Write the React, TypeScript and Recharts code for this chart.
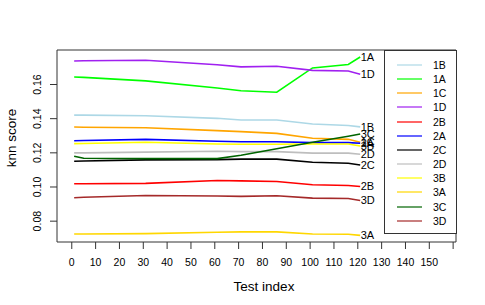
import { LineChart, Line, XAxis, YAxis, ReferenceArea } from "recharts";

// test index positions where the knn score was measured
const testIndex = [1, 5, 31, 61, 71, 86, 101, 116, 121];

const s1B = [0.1421, 0.1421, 0.1417, 0.1402, 0.1392, 0.1392, 0.1369, 0.136, 0.1352];
const s1A = [0.1644, 0.1642, 0.1621, 0.158, 0.1563, 0.1555, 0.1697, 0.1717, 0.1761];
const s1C = [0.1351, 0.135, 0.1347, 0.133, 0.1324, 0.1314, 0.1285, 0.1279, 0.1262];
const s1D = [0.1738, 0.1739, 0.1742, 0.1716, 0.1703, 0.1707, 0.1683, 0.1679, 0.166];
const s2B = [0.1019, 0.1019, 0.1021, 0.1038, 0.1036, 0.1032, 0.1013, 0.1009, 0.1003];
const s2A = [0.1271, 0.1272, 0.1279, 0.1268, 0.1265, 0.1265, 0.126, 0.126, 0.1256];
const s2C = [0.1151, 0.1152, 0.1159, 0.116, 0.1163, 0.1163, 0.1145, 0.1139, 0.1129];
const s2D = [0.12, 0.12, 0.1204, 0.1209, 0.1207, 0.1207, 0.1198, 0.1198, 0.1192];
const s3B = [0.1254, 0.1255, 0.1262, 0.1252, 0.125, 0.125, 0.1252, 0.1252, 0.124];
const s3A = [0.0725, 0.0725, 0.0727, 0.0735, 0.0737, 0.0737, 0.0725, 0.0723, 0.0717];
const s3C = [0.118, 0.1168, 0.1166, 0.1166, 0.1186, 0.1224, 0.1262, 0.1297, 0.131];
const s3D = [0.0937, 0.094, 0.095, 0.0947, 0.0945, 0.0949, 0.0935, 0.0933, 0.0921];

const xTicks = [0, 10, 20, 30, 40, 50, 60, 70, 80, 90, 100, 110, 120, 130, 140, 150, 160];
const yTicks = [0.08, 0.1, 0.12, 0.14, 0.16];

const SERIES = [
  { name: "1B", values: s1B, color: "#ADD8E6" },
  { name: "1A", values: s1A, color: "#00FF00" },
  { name: "1C", values: s1C, color: "#FFA500" },
  { name: "1D", values: s1D, color: "#A020F0" },
  { name: "2B", values: s2B, color: "#FF0000" },
  { name: "2A", values: s2A, color: "#0000FF" },
  { name: "2C", values: s2C, color: "#000000" },
  { name: "2D", values: s2D, color: "#BEBEBE" },
  { name: "3B", values: s3B, color: "#FFFF00" },
  { name: "3A", values: s3A, color: "#FFD700" },
  { name: "3C", values: s3C, color: "#006400" },
  { name: "3D", values: s3D, color: "#A52A2A" },
];

const X_DOMAIN: [number, number] = [-6.2, 161.2];
const Y_DOMAIN: [number, number] = [0.0678, 0.1802];
const FONT = "'Liberation Sans', Arial, sans-serif";

const data = testIndex.map((x, i) => {
  const row: Record<string, number> = { x };
  for (const s of SERIES) row[s.name] = s.values[i];
  return row;
});

const XTick = (props: any) => {
  const { x, payload } = props;
  return (
    <text x={x} y={265.5} textAnchor="middle" fontSize={10.5} fontFamily={FONT} fill="#000">
      {payload.value === 160 ? "" : payload.value}
    </text>
  );
};

const YTick = (props: any) => {
  const { y, payload } = props;
  return (
    <text
      x={41}
      y={y}
      transform={`rotate(-90, 41, ${y})`}
      textAnchor="middle"
      fontSize={10.5}
      fontFamily={FONT}
      fill="#000"
    >
      {payload.value.toFixed(2)}
    </text>
  );
};

const endLabel = (name: string) => (props: any) => {
  const { x, y, index } = props;
  if (index !== testIndex.length - 1) return <g />;
  return (
    <text x={x + 0.5} y={y + 4} fontSize={11} fontFamily={FONT} fill="#000" textAnchor="start">
      {name}
    </text>
  );
};

function LegendBox() {
  return (
    <div
      style={{
        position: "absolute",
        left: 384,
        top: 50,
        width: 71,
        height: 182,
        border: "1px solid #333",
        background: "#fff",
        fontFamily: FONT,
        fontSize: 10.5,
      }}
    >
      {SERIES.map((s, i) => (
        <div
          key={s.name}
          style={{ position: "absolute", left: 0, top: 8 + i * 14.15, height: 12, width: 71 }}
        >
          <div
            style={{
              position: "absolute",
              left: 12,
              top: 5,
              width: 25,
              height: 2,
              background: s.color,
              opacity: 0.6,
            }}
          />
          <span style={{ position: "absolute", left: 48, top: -1, lineHeight: "14px" }}>{s.name}</span>
        </div>
      ))}
    </div>
  );
}

export default function App() {
  return (
    <div style={{ position: "absolute", left: 0, top: 0, width: 485, height: 305, background: "#fff" }}>
      <LineChart width={485} height={305} data={data} margin={{ top: 50, right: 29, bottom: 0, left: 0 }}>
        <XAxis
          dataKey="x"
          type="number"
          domain={X_DOMAIN}
          allowDataOverflow
          ticks={xTicks}
          interval={0}
          height={63}
          axisLine={false}
          tickSize={7}
          tickLine={{ stroke: "#333" }}
          tick={<XTick />}
          label={{
            content: () => (
              <text x={264} y={291} textAnchor="middle" fontSize={13.5} fontFamily={FONT} fill="#000">
                Test index
              </text>
            ),
          }}
        />
        <YAxis
          type="number"
          domain={Y_DOMAIN}
          allowDataOverflow
          ticks={yTicks}
          interval={0}
          width={57}
          axisLine={false}
          tickSize={7}
          tickLine={{ stroke: "#333" }}
          tick={<YTick />}
          label={{
            content: () => (
              <text
                x={16}
                y={138}
                transform="rotate(-90, 16, 138)"
                textAnchor="middle"
                fontSize={13.5}
                fontFamily={FONT}
                fill="#000"
              >
                knn score
              </text>
            ),
          }}
        />
        <ReferenceArea
          x1={X_DOMAIN[0]}
          x2={X_DOMAIN[1]}
          y1={Y_DOMAIN[0]}
          y2={Y_DOMAIN[1]}
          fill="none"
          stroke="#333"
          strokeWidth={1}
          ifOverflow="visible"
        />
        {SERIES.map((s) => (
          <Line
            key={s.name}
            type="linear"
            dataKey={s.name}
            stroke={s.color}
            strokeWidth={1.6}
            dot={false}
            activeDot={false}
            isAnimationActive={false}
            label={endLabel(s.name)}
          />
        ))}
      </LineChart>
      <LegendBox />
    </div>
  );
}
